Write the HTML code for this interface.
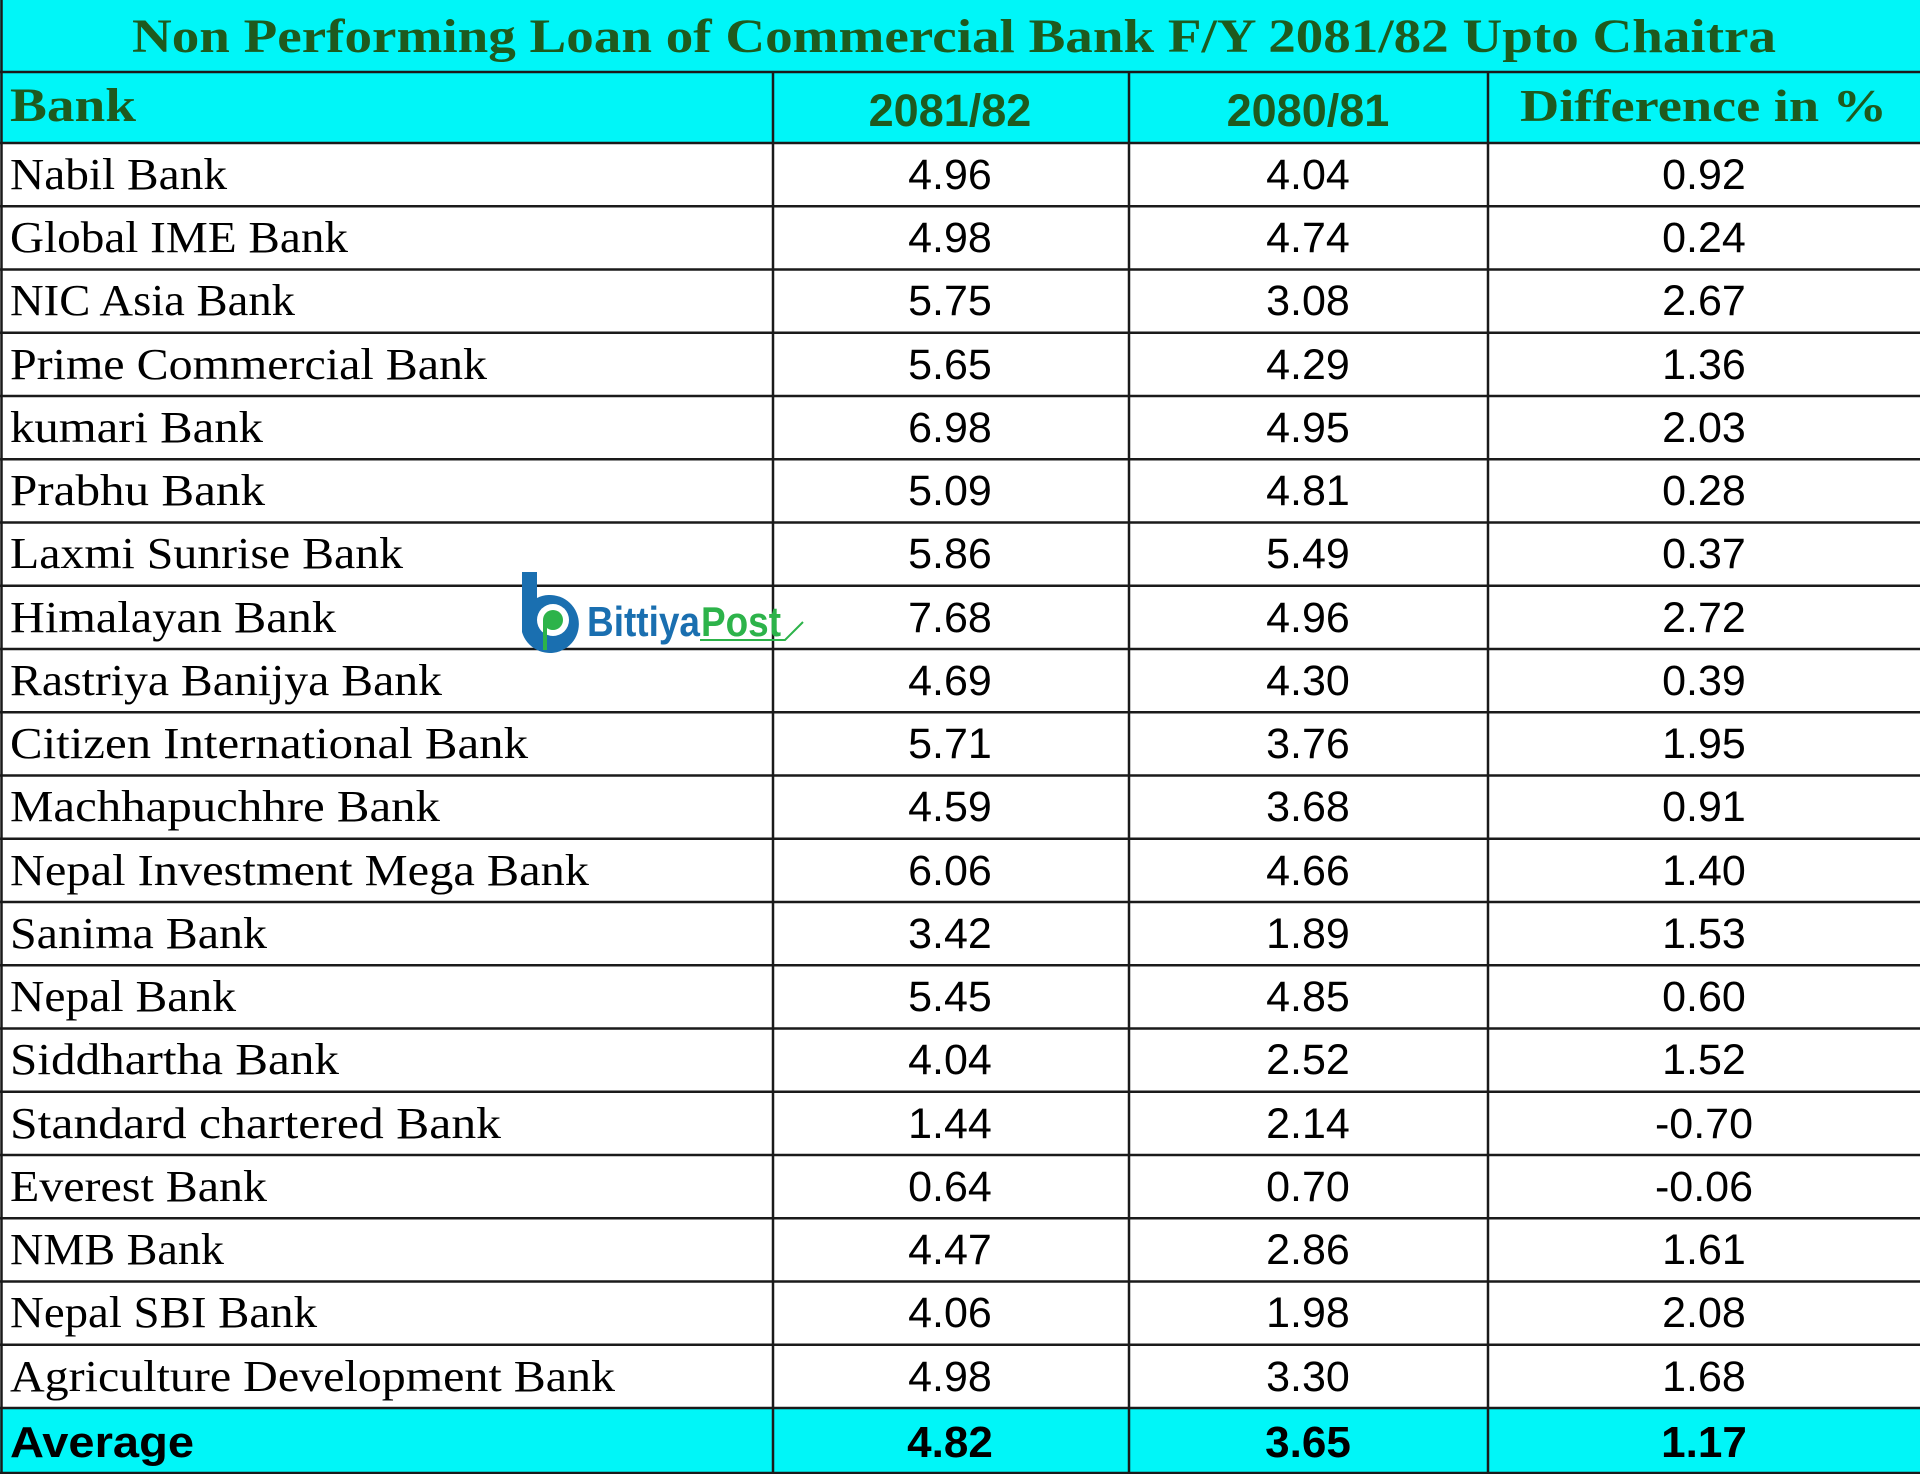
<!DOCTYPE html>
<html><head><meta charset="utf-8"><style>html,body{margin:0;padding:0;background:#fff}svg{display:block}</style></head>
<body>
<svg xmlns="http://www.w3.org/2000/svg" width="1920" height="1474" viewBox="0 0 1920 1474">
<rect x="0" y="0" width="1920" height="143" fill="#00f6f8"/>
<rect x="0" y="1408" width="1920" height="66" fill="#00f6f8"/>
<g font-family="Liberation Serif, serif" font-weight="bold" fill="#1e5a1e">
<text x="132" y="52" font-size="48" textLength="1644" lengthAdjust="spacingAndGlyphs">Non Performing Loan of Commercial Bank F/Y 2081/82 Upto Chaitra</text>
<text x="10" y="121" font-size="48" textLength="126" lengthAdjust="spacingAndGlyphs">Bank</text>
<text x="1520" y="121" font-size="46" textLength="367" lengthAdjust="spacingAndGlyphs">Difference in %</text>
</g>
<g font-family="Liberation Sans, sans-serif" font-weight="bold" fill="#1e5a1e" font-size="45" text-anchor="middle">
<text x="950" y="126">2081/82</text>
<text x="1308" y="126">2080/81</text>
</g>
<g stroke="#1a1a1a" stroke-width="2.5" fill="none">
<line x1="0" y1="72" x2="1920" y2="72"/>
<line x1="1.5" y1="0" x2="1.5" y2="1474"/>
<line x1="773" y1="72" x2="773" y2="1474"/>
<line x1="1129" y1="72" x2="1129" y2="1474"/>
<line x1="1488" y1="72" x2="1488" y2="1474"/>
<line x1="0" y1="143" x2="1920" y2="143"/>
<line x1="0" y1="206.3" x2="1920" y2="206.3"/>
<line x1="0" y1="269.5" x2="1920" y2="269.5"/>
<line x1="0" y1="332.8" x2="1920" y2="332.8"/>
<line x1="0" y1="396" x2="1920" y2="396"/>
<line x1="0" y1="459.3" x2="1920" y2="459.3"/>
<line x1="0" y1="522.5" x2="1920" y2="522.5"/>
<line x1="0" y1="585.8" x2="1920" y2="585.8"/>
<line x1="0" y1="649" x2="1920" y2="649"/>
<line x1="0" y1="712.3" x2="1920" y2="712.3"/>
<line x1="0" y1="775.5" x2="1920" y2="775.5"/>
<line x1="0" y1="838.8" x2="1920" y2="838.8"/>
<line x1="0" y1="902" x2="1920" y2="902"/>
<line x1="0" y1="965.3" x2="1920" y2="965.3"/>
<line x1="0" y1="1028.5" x2="1920" y2="1028.5"/>
<line x1="0" y1="1091.8" x2="1920" y2="1091.8"/>
<line x1="0" y1="1155" x2="1920" y2="1155"/>
<line x1="0" y1="1218.3" x2="1920" y2="1218.3"/>
<line x1="0" y1="1281.5" x2="1920" y2="1281.5"/>
<line x1="0" y1="1344.8" x2="1920" y2="1344.8"/>
<line x1="0" y1="1408" x2="1920" y2="1408"/>
<line x1="0" y1="1473" x2="1920" y2="1473"/>
</g>
<g font-family="Liberation Serif, serif" font-size="44" fill="#000">
<text x="10" y="189" textLength="217" lengthAdjust="spacingAndGlyphs">Nabil Bank</text>
<text x="10" y="252" textLength="338" lengthAdjust="spacingAndGlyphs">Global IME Bank</text>
<text x="10" y="315" textLength="285" lengthAdjust="spacingAndGlyphs">NIC Asia Bank</text>
<text x="10" y="379" textLength="477" lengthAdjust="spacingAndGlyphs">Prime Commercial Bank</text>
<text x="10" y="442" textLength="253" lengthAdjust="spacingAndGlyphs">kumari Bank</text>
<text x="10" y="505" textLength="255" lengthAdjust="spacingAndGlyphs">Prabhu Bank</text>
<text x="10" y="568" textLength="393" lengthAdjust="spacingAndGlyphs">Laxmi Sunrise Bank</text>
<text x="10" y="632" textLength="326" lengthAdjust="spacingAndGlyphs">Himalayan Bank</text>
<text x="10" y="695" textLength="432" lengthAdjust="spacingAndGlyphs">Rastriya Banijya Bank</text>
<text x="10" y="758" textLength="518" lengthAdjust="spacingAndGlyphs">Citizen International Bank</text>
<text x="10" y="821" textLength="430" lengthAdjust="spacingAndGlyphs">Machhapuchhre Bank</text>
<text x="10" y="885" textLength="579" lengthAdjust="spacingAndGlyphs">Nepal Investment Mega Bank</text>
<text x="10" y="948" textLength="257" lengthAdjust="spacingAndGlyphs">Sanima Bank</text>
<text x="10" y="1011" textLength="226" lengthAdjust="spacingAndGlyphs">Nepal Bank</text>
<text x="10" y="1074" textLength="329" lengthAdjust="spacingAndGlyphs">Siddhartha Bank</text>
<text x="10" y="1138" textLength="491" lengthAdjust="spacingAndGlyphs">Standard chartered Bank</text>
<text x="10" y="1201" textLength="257" lengthAdjust="spacingAndGlyphs">Everest Bank</text>
<text x="10" y="1264" textLength="214" lengthAdjust="spacingAndGlyphs">NMB Bank</text>
<text x="10" y="1327" textLength="307" lengthAdjust="spacingAndGlyphs">Nepal SBI Bank</text>
<text x="10" y="1391" textLength="605" lengthAdjust="spacingAndGlyphs">Agriculture Development Bank</text>
</g>
<g font-family="Liberation Sans, sans-serif" font-size="43" fill="#000" text-anchor="middle">
<text x="950" y="189">4.96</text><text x="1308" y="189">4.04</text><text x="1704" y="189">0.92</text>
<text x="950" y="252">4.98</text><text x="1308" y="252">4.74</text><text x="1704" y="252">0.24</text>
<text x="950" y="315">5.75</text><text x="1308" y="315">3.08</text><text x="1704" y="315">2.67</text>
<text x="950" y="379">5.65</text><text x="1308" y="379">4.29</text><text x="1704" y="379">1.36</text>
<text x="950" y="442">6.98</text><text x="1308" y="442">4.95</text><text x="1704" y="442">2.03</text>
<text x="950" y="505">5.09</text><text x="1308" y="505">4.81</text><text x="1704" y="505">0.28</text>
<text x="950" y="568">5.86</text><text x="1308" y="568">5.49</text><text x="1704" y="568">0.37</text>
<text x="950" y="632">7.68</text><text x="1308" y="632">4.96</text><text x="1704" y="632">2.72</text>
<text x="950" y="695">4.69</text><text x="1308" y="695">4.30</text><text x="1704" y="695">0.39</text>
<text x="950" y="758">5.71</text><text x="1308" y="758">3.76</text><text x="1704" y="758">1.95</text>
<text x="950" y="821">4.59</text><text x="1308" y="821">3.68</text><text x="1704" y="821">0.91</text>
<text x="950" y="885">6.06</text><text x="1308" y="885">4.66</text><text x="1704" y="885">1.40</text>
<text x="950" y="948">3.42</text><text x="1308" y="948">1.89</text><text x="1704" y="948">1.53</text>
<text x="950" y="1011">5.45</text><text x="1308" y="1011">4.85</text><text x="1704" y="1011">0.60</text>
<text x="950" y="1074">4.04</text><text x="1308" y="1074">2.52</text><text x="1704" y="1074">1.52</text>
<text x="950" y="1138">1.44</text><text x="1308" y="1138">2.14</text><text x="1704" y="1138">-0.70</text>
<text x="950" y="1201">0.64</text><text x="1308" y="1201">0.70</text><text x="1704" y="1201">-0.06</text>
<text x="950" y="1264">4.47</text><text x="1308" y="1264">2.86</text><text x="1704" y="1264">1.61</text>
<text x="950" y="1327">4.06</text><text x="1308" y="1327">1.98</text><text x="1704" y="1327">2.08</text>
<text x="950" y="1391">4.98</text><text x="1308" y="1391">3.30</text><text x="1704" y="1391">1.68</text>
</g>
<g font-family="Liberation Sans, sans-serif" font-size="44" font-weight="bold" fill="#000">
<text x="10" y="1457" textLength="184" lengthAdjust="spacingAndGlyphs">Average</text>
<text x="950" y="1457" text-anchor="middle">4.82</text>
<text x="1308" y="1457" text-anchor="middle">3.65</text>
<text x="1704" y="1457" text-anchor="middle">1.17</text>
</g>
<g>
<path d="M522 572 L537 572 L537 598 A29 29 0 1 1 522 632 Z" fill="#1a6fb0"/>
<circle cx="553" cy="620" r="16" fill="#fff"/>
<circle cx="553" cy="620" r="10" fill="#2db34a"/>
<rect x="543" y="620" width="4" height="30" fill="#2db34a"/>
<text x="587" y="636" font-family="Liberation Sans, sans-serif" font-weight="bold" font-size="42" fill="#1a6fb0" textLength="113" lengthAdjust="spacingAndGlyphs">Bittiya</text>
<text x="701" y="636" font-family="Liberation Sans, sans-serif" font-weight="bold" font-size="42" fill="#2db34a" textLength="80" lengthAdjust="spacingAndGlyphs">Post</text>
<path d="M700 640 L785 640 L795 630 L803 622" stroke="#2db34a" stroke-width="2" fill="none"/>
</g>
</svg>
</body></html>
